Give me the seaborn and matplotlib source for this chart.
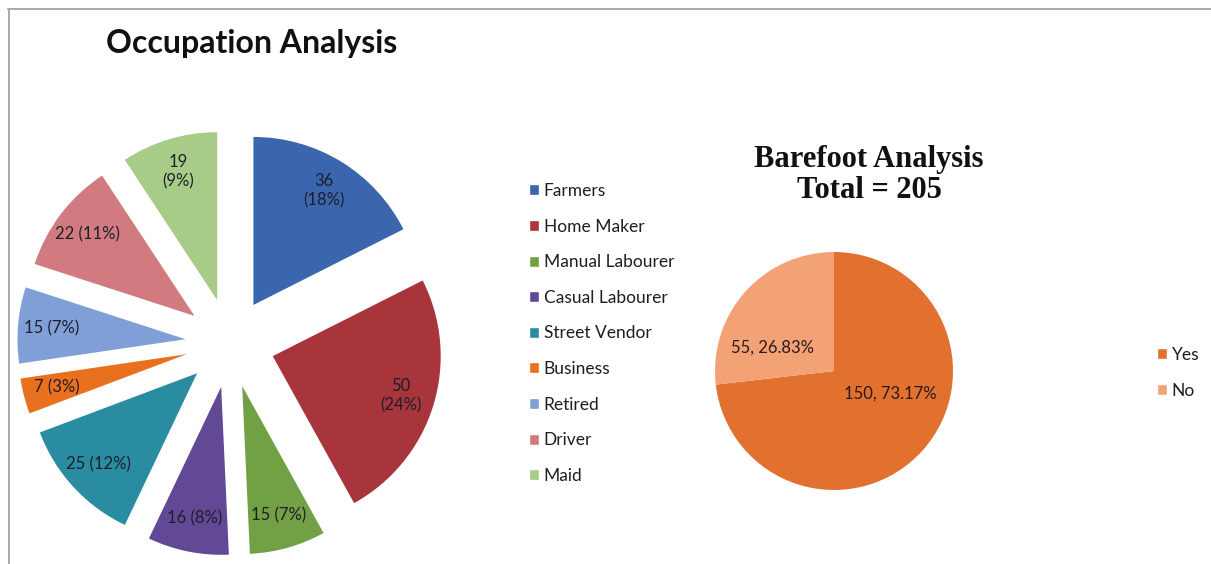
import matplotlib
matplotlib.use("Agg")
import matplotlib.pyplot as plt
from matplotlib.lines import Line2D
from matplotlib.patches import Patch
import numpy as np
import seaborn as sns

# Occupation breakdown
occupations = ["Farmers", "Home Maker", "Manual Labourer", "Casual Labourer",
               "Street Vendor", "Business", "Retired", "Driver", "Maid"]
occupation_counts = [36, 50, 15, 16, 25, 7, 15, 22, 19]
occupation_colors = ["#3B66AE", "#A8353C", "#72A044", "#614996", "#2A8CA0",
                     "#E8701E", "#7F9FD6", "#D17B80", "#A7CC88"]
two_line_label = [True, True, False, False, False, False, False, False, True]

# Barefoot walking
barefoot_labels = ["Yes", "No"]
barefoot_counts = [150, 55]
barefoot_colors = ["#E2702E", "#F3A276"]

W, H = 1211, 564
sns.set_theme(style="white")
plt.rcParams["font.family"] = ["Lato", "DejaVu Sans"]

fig = plt.figure(figsize=(W / 100, H / 100), dpi=100)
fig.patch.set_facecolor("white")


def pixel_axes(x0, y0, x1, y1, cx, cy, r):
    """Axes over a pixel box, with data units scaled so that 1 == r pixels
    and the origin sits at pixel (cx, cy)."""
    ax = fig.add_axes([x0 / W, 1 - y1 / H, (x1 - x0) / W, (y1 - y0) / H])
    lims = ((x0 - cx) / r, (x1 - cx) / r), ((cy - y1) / r, (cy - y0) / r)
    return ax, lims


# ---- Occupation pie (exploded) ----
ax1, (xl1, yl1) = pixel_axes(9, 95, 505, 564, 230, 343, 168)
total_occ = sum(occupation_counts)
wedges1, _ = ax1.pie(occupation_counts, colors=occupation_colors,
                     startangle=90, counterclock=False,
                     explode=[0.266] * len(occupation_counts),
                     wedgeprops=dict(linewidth=0))
for w, v, wrap in zip(wedges1, occupation_counts, two_line_label):
    pct = round(100 * v / total_occ)
    sep = "\n" if wrap else " "
    ang = np.deg2rad((w.theta1 + w.theta2) / 2)
    cxw, cyw = w.center
    rr = 0.8
    ax1.text(cxw + rr * np.cos(ang), cyw + rr * np.sin(ang),
             f"{v}{sep}({pct}%)", ha="center", va="center",
             fontsize=12, color="#1E1E2A", linespacing=1.25)
ax1.set_xlim(*xl1)
ax1.set_ylim(*yl1)
ax1.set_aspect("auto")
ax1.axis("off")

fig.text(252 / W, 1 - 43 / H, "Occupation Analysis", ha="center", va="center",
         fontsize=23, fontweight="bold", color="#111111")

legend_style = dict(loc="upper left", frameon=False, fontsize=12.5,
                    handlelength=0.6, handleheight=0.6, handletextpad=0.25,
                    labelspacing=1.13, borderpad=0, borderaxespad=0)

leg1 = fig.legend([Patch(facecolor=c) for c in occupation_colors], occupations,
                  bbox_to_anchor=(529 / W, 1 - 183 / H), **legend_style)
for t in leg1.get_texts():
    t.set_color("#1E1E1E")

# ---- Barefoot pie ----
ax2, (xl2, yl2) = pixel_axes(700, 240, 970, 500, 834, 371, 119)
total_bf = sum(barefoot_counts)
wedges2, _ = ax2.pie(barefoot_counts, colors=barefoot_colors,
                     startangle=90, counterclock=False,
                     wedgeprops=dict(linewidth=0))
label_dist = [0.505, 0.555]
label_turn = [20, 21]
for w, v, d, turn in zip(wedges2, barefoot_counts, label_dist, label_turn):
    ang = np.deg2rad((w.theta1 + w.theta2) / 2 + turn)
    ax2.text(d * np.cos(ang), d * np.sin(ang),
             f"{v}, {100 * v / total_bf:.2f}%", ha="center", va="center",
             fontsize=12, color="#2A1A1A")
ax2.set_xlim(*xl2)
ax2.set_ylim(*yl2)
ax2.set_aspect("auto")
ax2.axis("off")

fig.text(869 / W, 1 - 175 / H, "Barefoot Analysis\nTotal = 205",
         ha="center", va="center", fontsize=22, fontweight="bold",
         family="Liberation Serif", color="#111111", linespacing=1.12)

leg2 = fig.legend([Patch(facecolor=c) for c in barefoot_colors], barefoot_labels,
                  bbox_to_anchor=(1157 / W, 1 - 347 / H), **legend_style)
for t in leg2.get_texts():
    t.set_color("#1E1E1E")

# Chart frame edges (top and left)
fig.add_artist(Line2D([8 / W, 1], [1 - 8.5 / H, 1 - 8.5 / H],
                      transform=fig.transFigure, color="#A8A8A8", lw=1.4))
fig.add_artist(Line2D([8.5 / W, 8.5 / W], [0, 1 - 8.5 / H],
                      transform=fig.transFigure, color="#A8A8A8", lw=1.4))

fig.savefig("out.png", dpi=100, facecolor="white")
